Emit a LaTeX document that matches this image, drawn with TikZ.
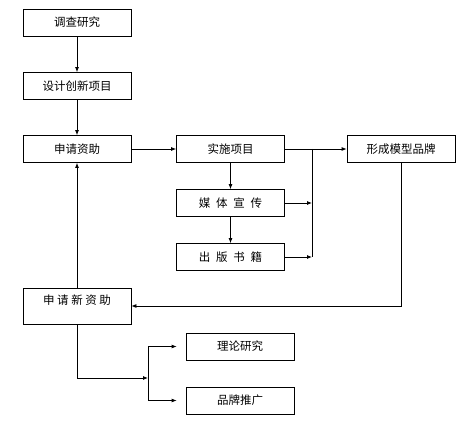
\documentclass[tikz,border=0pt]{standalone}
\usepackage{fontspec}
\newfontfamily\cjk{Noto Sans CJK SC}
\usetikzlibrary{arrows.meta, calc, positioning}

\begin{document}
\begin{tikzpicture}[
  x=1pt, y=-1pt,
  box/.style={draw, line width=0.8pt, minimum width=108pt, minimum height=27pt,
              inner sep=0pt, align=center, font=\cjk\fontsize{11.5}{13}\selectfont},
  arr/.style={-{Latex[length=5pt, width=4pt]}, line width=0.8pt},
  line/.style={line width=0.8pt},
]
  \useasboundingbox (0,0) rectangle (469,433);

  %% ── main column ──
  \node[box] (survey)  at (77, 22.5) {调查研究};
  \node[box] (design)  at (77, 86)   {设计创新项目};
  \node[box] (fund)    at (77, 149)  {申请资助};

  %% ── project branch ──
  \node[box] (project) at (230.5, 149) {实施项目};
  \node[box] (media)   at (230.5, 203) {媒\enspace 体\enspace 宣\enspace 传};
  \node[box] (book)    at (230.5, 257) {出\enspace 版\enspace 书\enspace 籍};
  \node[box] (brand)   at (401, 149)   {形成模型品牌};

  %% ── new funding ──
  \node[box, minimum height=36pt, text height=10pt, text depth=14pt]
    (newfund) at (77, 306) {申 请 新 资 助};
  \node[box] (theory)  at (240, 346.5) {理论研究};
  \node[box] (promote) at (240, 400.5) {品牌推广};

  \coordinate (bus)   at (312, 149);
  \coordinate (split) at (148, 378);

  %% ═══════ ARROWS ═══════
  \draw[arr] (survey) -- (design);
  \draw[arr] (design) -- (fund);
  \draw[arr] (fund) -- (project);
  \draw[arr] (project) -- (brand);
  \draw[arr] (project) -- (media);
  \draw[arr] (media) -- (book);

  \draw[line] (bus) -- (bus |- book);
  \draw[arr] (media.east) -- (bus |- media);
  \draw[arr] (book.east) -- (bus |- book);

  \draw[arr] (brand.south) |- (newfund.east);
  \draw[arr] (newfund.north) -- (fund.south);

  \draw[arr] (newfund.south) |- (split);
  \draw[line] (split |- theory) -- (split |- promote);
  \draw[arr, shorten >=9pt] (split |- theory) -- (theory.west);
  \draw[arr, shorten >=9pt] (split |- promote) -- (promote.west);
\end{tikzpicture}
\end{document}
